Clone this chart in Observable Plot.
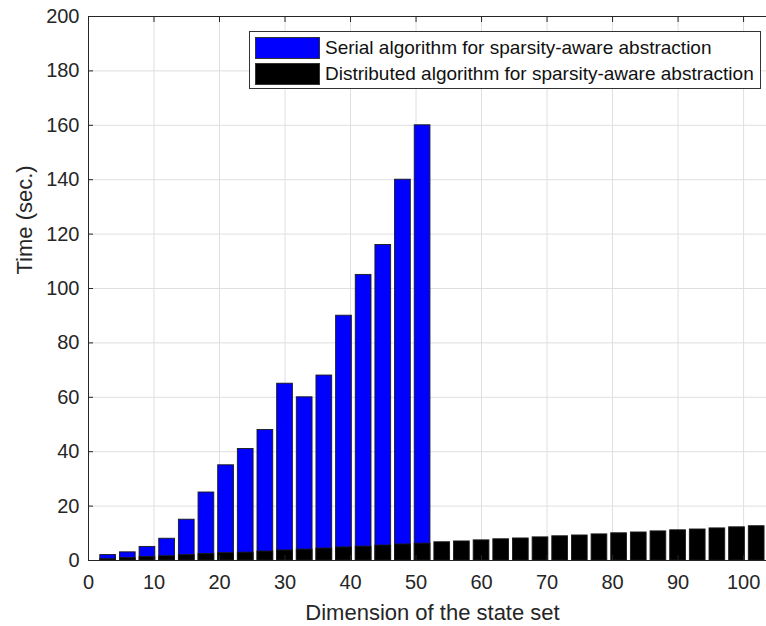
<!DOCTYPE html>
<html>
<head>
<meta charset="utf-8">
<script src="https://cdn.jsdelivr.net/npm/d3@7"></script>
<script src="https://cdn.jsdelivr.net/npm/@observablehq/plot@0.6"></script>
<style>
  body { margin: 0; background: #fff; font-family: "Liberation Sans", Arial, sans-serif; }
  #wrap { position: relative; width: 766px; height: 626px; overflow: hidden; }
  #legend { position: absolute; left: 249px; top: 31px; width: 512px; height: 58px; border: 1px solid #333; background: #fff; box-sizing: border-box; font-size: 19px; color: #111; }
  .row { position: absolute; left: 5px; height: 22px; display: flex; align-items: center; }
  .sw { width: 65px; height: 22px; border: 1px solid #333; box-sizing: border-box; margin-right: 5px; }
</style>
</head>
<body>
<div id="wrap"></div>
<script>
const serialDims = [3,6,9,12,15,18,21,24,27,30,33,36,39,42,45,48,51];
const serialTimes = [2,3,5,8,15,25,35,41,48,65,60,68,90,105,116,140,160];
const distDims = [3,6,9,12,15,18,21,24,27,30,33,36,39,42,45,48,51,54,57,60,63,66,69,72,75,78,81,84,87,90,93,96,99,102];
const distTimes = [0.5,0.9,1.3,1.6,2.0,2.4,2.7,2.9,3.3,3.7,4.0,4.4,4.8,5.1,5.5,5.9,6.2,6.7,7.0,7.4,7.8,8.1,8.5,8.9,9.2,9.6,10.0,10.3,10.7,11.1,11.4,11.8,12.2,12.6];
const xTicks = [0,10,20,30,40,50,60,70,80,90,100];
const yTicks = [0,20,40,60,80,100,120,140,160,180,200];
const seriesNames = ["Serial algorithm for sparsity-aware abstraction", "Distributed algorithm for sparsity-aware abstraction"];
const seriesColors = ["#0000ff", "#000000"];

const serial = serialDims.map((x, i) => ({x, v: serialTimes[i]}));
const dist = distDims.map((x, i) => ({x, v: distTimes[i]}));
const halfW = 1.2;
const ink = "#262626";

const chart = Plot.plot({
  width: 766,
  height: 626,
  marginLeft: 88,
  marginRight: 0,
  marginTop: 16,
  marginBottom: 66,
  style: {fontFamily: "Liberation Sans, Arial, sans-serif", fontSize: "20px", color: ink, background: "#fff"},
  x: {domain: [0, 103.5], label: null},
  y: {domain: [0, 200], label: null},
  marks: [
    Plot.gridX(xTicks, {stroke: "#dfdfdf", strokeOpacity: 1}),
    Plot.gridY(yTicks, {stroke: "#dfdfdf", strokeOpacity: 1}),
    Plot.rectY(serial, {x1: d => d.x - halfW, x2: d => d.x + halfW, y1: 0, y2: "v", fill: seriesColors[0], stroke: "#1a1a1a", strokeWidth: 0.9, clip: true}),
    Plot.rectY(dist, {x1: d => d.x - halfW, x2: d => d.x + halfW, y1: 0, y2: "v", fill: seriesColors[1], stroke: "#1a1a1a", strokeWidth: 0.9, clip: true}),
    Plot.ruleY([0, 200], {stroke: ink, strokeWidth: 1}),
    Plot.ruleX([0], {stroke: ink, strokeWidth: 1}),
    Plot.axisX(xTicks, {anchor: "bottom", tickSize: -5, tickFormat: () => "", stroke: ink, label: null}),
    Plot.axisX(xTicks, {anchor: "top", tickSize: -5, tickFormat: () => "", stroke: ink, label: null}),
    Plot.axisY(yTicks, {anchor: "left", tickSize: -5, tickFormat: () => "", stroke: ink, label: null}),
    Plot.text(xTicks, {x: d => d, y: 0, text: d => String(d), dy: 22, fontSize: 20, fill: ink, lineAnchor: "middle"}),
    Plot.text(yTicks, {x: 0, y: d => d, text: d => String(d), dx: -9, fontSize: 20, fill: ink, textAnchor: "end", lineAnchor: "middle"}),
    Plot.text(["Dimension of the state set"], {frameAnchor: "bottom", dx: 5, dy: 52, fontSize: 22, fill: ink, lineAnchor: "middle"}),
    Plot.text(["Time (sec.)"], {frameAnchor: "left", dx: -64, dy: -14, rotate: -90, fontSize: 22, fill: ink, lineAnchor: "middle"})
  ]
});

const wrap = document.getElementById("wrap");
wrap.appendChild(chart);
const legend = document.createElement("div");
legend.id = "legend";
seriesNames.forEach((name, i) => {
  const row = document.createElement("div");
  row.className = "row";
  row.style.top = (i === 0 ? 5 : 31) + "px";
  const sw = document.createElement("div");
  sw.className = "sw";
  sw.style.background = seriesColors[i];
  const t = document.createElement("span");
  t.textContent = name;
  row.appendChild(sw);
  row.appendChild(t);
  legend.appendChild(row);
});
wrap.appendChild(legend);
</script>
</body>
</html>
